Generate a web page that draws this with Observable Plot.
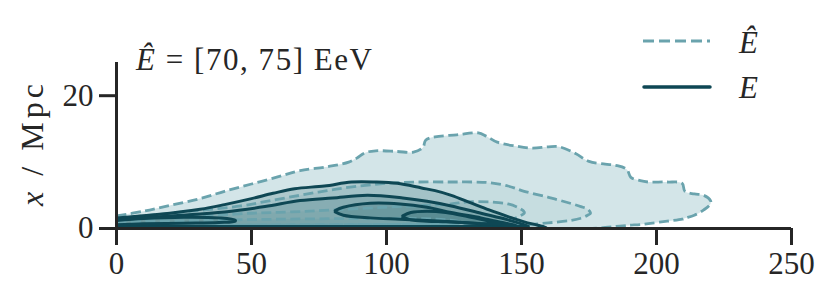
<!DOCTYPE html>
<html><head><meta charset="utf-8">
<script src="https://cdn.jsdelivr.net/npm/d3@7"></script>
<script src="https://cdn.jsdelivr.net/npm/@observablehq/plot@0.6"></script>
<style>body{margin:0;background:#fff}</style>
</head><body><div id="chart"></div>
<script>
// axis ticks
const xTicks = [0, 50, 100, 150, 200, 250];
const yTicks = [0, 20];

// Ê (reconstructed) contours: x, upper edge, lower edge
const hat1X  = [0, 10, 20, 31, 40, 50, 60, 68, 78, 86, 89, 92, 96, 104, 110, 113.5, 114.5, 118, 126, 134, 137, 141, 148, 154, 160, 164, 170, 175, 181, 185, 189, 190.5, 194, 197, 204, 209.5, 210.5, 214, 217.5, 220];
const hat1Hi = [1.9, 2.6, 3.5, 4.5, 5.6, 6.7, 7.8, 8.7, 9.3, 10.0, 10.6, 11.4, 11.7, 11.6, 11.5, 12.2, 13.3, 13.8, 14.1, 14.4, 13.9, 13.0, 12.4, 12.1, 12.3, 12.3, 11.3, 10.1, 9.7, 9.5, 8.9, 7.7, 7.2, 7.0, 7.0, 6.8, 5.6, 5.2, 5.0, 4.2];
const hat1Lo = [0, 0, 0, 0, 0, 0, 0, 0, 0, 0, 0, 0, 0, 0, 0, 0, 0, 0, 0, 0, 0, 0, 0, 0, 0, 0, 0, 0, 0.15, 0.3, 0.45, 0.5, 0.6, 0.75, 1.1, 1.4, 1.55, 2.0, 2.8, 3.7];

const hat2X  = [0, 15, 30, 46, 57, 68, 78, 88, 100, 112, 124, 132, 138, 145, 151, 160, 168, 172, 174.5, 175.5];
const hat2Hi = [1.5, 2.1, 2.7, 3.4, 4.2, 5.0, 5.7, 6.3, 6.8, 7.0, 7.0, 7.0, 6.9, 6.4, 5.6, 4.7, 3.8, 3.3, 2.9, 2.4];
const hat2Lo = [0, 0, 0, 0, 0, 0, 0, 0, 0, 0, 0.1, 0.2, 0.3, 0.4, 0.55, 0.85, 1.2, 1.55, 2.0, 2.25];

const hat3X  = [0, 25, 50, 65, 80, 99, 115, 124, 130, 138, 145, 149, 151];
const hat3Hi = [1.1, 1.7, 2.3, 2.5, 2.8, 3.2, 3.5, 3.7, 4.0, 4.0, 3.7, 3.1, 2.5];
const hat3Lo = [0.3, 0.4, 0.5, 0.5, 0.55, 0.6, 0.6, 0.65, 0.7, 0.9, 1.2, 1.8, 2.3];

const hat4X  = [0, 30, 60, 90, 110, 122, 127];
const hat4Hi = [0.9, 1.2, 1.4, 1.5, 1.5, 1.3, 1.0];
const hat4Lo = [0.3, 0.45, 0.55, 0.6, 0.65, 0.75, 0.95];

// E (true) contours
const e1X  = [0, 15, 31, 40, 50, 58, 66, 77, 87, 96, 104, 113, 118, 124, 131, 138, 145, 151, 156, 159];
const e1Hi = [1.6, 2.1, 2.9, 3.6, 4.5, 5.3, 6.0, 6.4, 7.0, 7.0, 6.8, 6.1, 5.7, 5.0, 3.9, 2.8, 1.8, 1.0, 0.5, 0.15];
const e1Lo = [0, 0, 0, 0, 0, 0, 0, 0, 0, 0, 0, 0, 0, 0, 0, 0, 0, 0, 0, 0.05];

const e2X  = [0, 20, 40, 55, 68, 80, 93, 106, 115, 124, 135, 145, 150, 152.5];
const e2Hi = [1.3, 1.9, 2.5, 3.3, 4.2, 4.6, 5.0, 4.6, 4.1, 3.4, 2.3, 1.3, 0.7, 0.35];
const e2Lo = [0.3, 0.3, 0.3, 0.3, 0.3, 0.3, 0.3, 0.3, 0.3, 0.3, 0.3, 0.3, 0.3, 0.3];

const e3aX  = [0, 10, 25, 38, 44];
const e3aHi = [1.2, 1.5, 1.7, 1.6, 1.25];
const e3aLo = [0.55, 0.7, 0.8, 0.9, 1.1];

const e3bX  = [81, 84, 94, 105, 115, 124, 135, 143, 148];
const e3bHi = [2.7, 3.2, 3.8, 3.7, 3.2, 2.4, 1.6, 0.9, 0.45];
const e3bLo = [2.5, 2.0, 1.6, 1.4, 1.2, 1.0, 0.7, 0.5, 0.4];

const e4X  = [106, 109, 115, 122, 130, 137, 142];
const e4Hi = [1.9, 2.4, 2.6, 2.4, 1.8, 1.2, 0.8];
const e4Lo = [1.7, 1.3, 1.1, 1.0, 0.85, 0.7, 0.7];

function ring(xs, hi, lo) {
  const pts = xs.map((x, i) => ({x, y: hi[i]}));
  for (let i = xs.length - 1; i >= 0; i--) pts.push({x: xs[i], y: lo[i]});
  return pts;
}
const hat1 = ring(hat1X, hat1Hi, hat1Lo);
const hatInner = [ring(hat2X, hat2Hi, hat2Lo), ring(hat3X, hat3Hi, hat3Lo), ring(hat4X, hat4Hi, hat4Lo)];
const eRings = [ring(e1X, e1Hi, e1Lo), ring(e2X, e2Hi, e2Lo), ring(e3aX, e3aHi, e3aLo), ring(e3bX, e3bHi, e3bLo), ring(e4X, e4Hi, e4Lo)];

const hatColor = "#6aa3ad", eColor = "#0e4754", ink = "#262626";
const curve = "catmull-rom";

const marks = [];
marks.push(Plot.line(hat1, {x: "x", y: "y", curve, fill: "#d3e5e8", stroke: "none"}));
hatInner.forEach(r => marks.push(Plot.line(r, {x: "x", y: "y", curve, fill: hatColor, fillOpacity: 0.12, stroke: "none"})));
eRings.forEach(r => marks.push(Plot.line(r, {x: "x", y: "y", curve, fill: "#1b5866", fillOpacity: 0.2, stroke: "none"})));
[hat1, ...hatInner].forEach(r => marks.push(Plot.line(r, {x: "x", y: "y", curve, stroke: hatColor, strokeWidth: 2.8, strokeDasharray: "10,4.5", strokeLinecap: "butt"})));
eRings.forEach(r => marks.push(Plot.line(r, {x: "x", y: "y", curve, stroke: eColor, strokeWidth: 3})));
marks.push(Plot.ruleY([0], {stroke: ink, strokeWidth: 3}));
marks.push(Plot.ruleX([0], {stroke: ink, strokeWidth: 3}));
marks.push(Plot.axisX({ticks: xTicks, tickSize: 17, tickPadding: 6, strokeWidth: 3, stroke: ink, label: null}));
marks.push(Plot.axisY({ticks: yTicks, tickSize: 17, tickPadding: 6, strokeWidth: 3, stroke: ink, label: null}));

const chart = Plot.plot({
  width: 830, height: 297,
  marginLeft: 116, marginRight: 39, marginTop: 62, marginBottom: 69,
  x: {domain: [0, 250]},
  y: {domain: [0, 25]},
  style: {fontFamily: "'Liberation Serif', serif", fontSize: "31px", color: ink, background: "#fff", overflow: "visible"},
  marks
});
document.getElementById("chart").appendChild(chart);

const svg = d3.select(chart);
const font = "'Liberation Serif', serif";
// title
const t = svg.append("text").attr("x", 136).attr("y", 70).attr("text-anchor", "start")
  .attr("font-family", font).attr("font-size", 31).attr("fill", ink)
  .attr("textLength", 236).attr("lengthAdjust", "spacing");
t.append("tspan").attr("font-style", "italic").text("Ê");
t.append("tspan").text(" = [70, 75] EeV");
// y label
const yl = svg.append("text").attr("transform", "translate(43,145) rotate(-90)").attr("text-anchor", "middle")
  .attr("font-family", font).attr("font-size", 32).attr("fill", ink)
  .attr("textLength", 122).attr("lengthAdjust", "spacing");
yl.append("tspan").attr("font-style", "italic").text("x");
yl.append("tspan").text(" / Mpc");
// legend
const lg = svg.append("g").attr("text-anchor", "start");
lg.append("line").attr("x1", 643).attr("x2", 710).attr("y1", 41).attr("y2", 41)
  .attr("stroke", hatColor).attr("stroke-width", 3).attr("stroke-dasharray", "11,5");
lg.append("line").attr("x1", 644).attr("x2", 710).attr("y1", 87).attr("y2", 87)
  .attr("stroke", eColor).attr("stroke-width", 3.5).attr("stroke-linecap", "round");
lg.append("text").attr("x", 739).attr("y", 53).attr("font-family", font).attr("font-size", 31).attr("font-style", "italic").attr("fill", ink).text("Ê");
lg.append("text").attr("x", 739).attr("y", 98).attr("font-family", font).attr("font-size", 31).attr("font-style", "italic").attr("fill", ink).text("E");
</script>
</body></html>
